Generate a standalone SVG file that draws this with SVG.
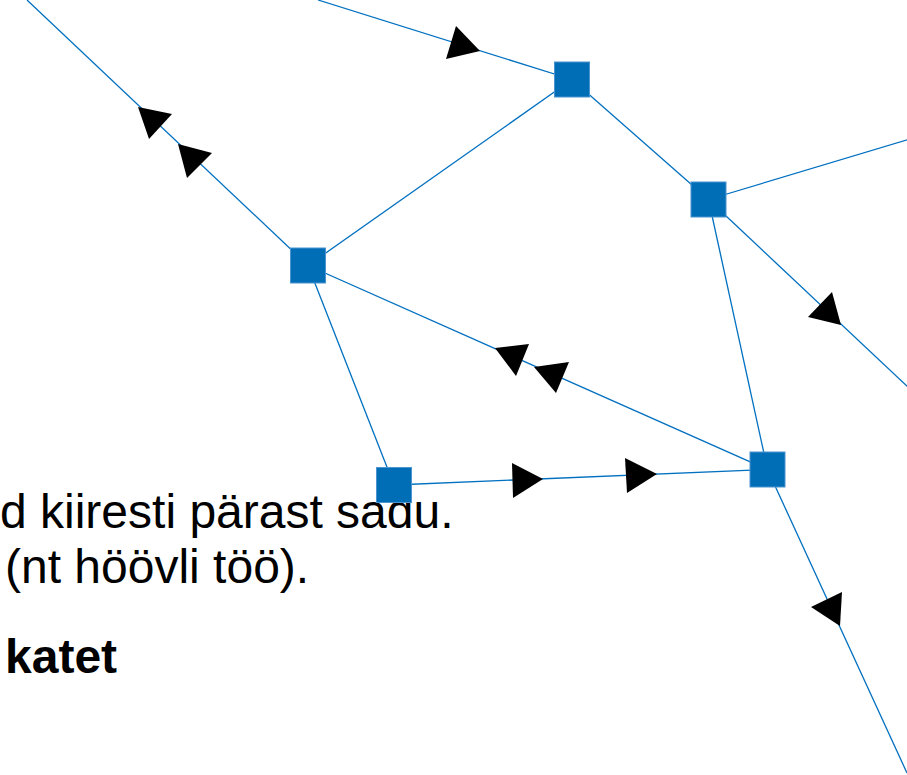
<svg xmlns="http://www.w3.org/2000/svg" width="907" height="775" viewBox="0 0 907 775">
<style>
.t{font-family:"Liberation Sans",Arial,sans-serif;font-size:48px;fill:#000}
.b{font-weight:bold}
.ln{stroke:#0070C0;stroke-width:1.3;fill:none}
.arr{fill:#000}
.nd{fill:#006EB6;stroke:#4A94CF;stroke-width:1}
</style>
<rect width="907" height="775" fill="#fff"/>
<g id="texts">
<text class="t" x="0" y="528">d kiiresti pärast sadu.</text>
<text class="t" x="5" y="583">(nt höövli töö).</text>
<text class="t b" x="5" y="673">katet</text>
</g>
<g id="connectors">
<line class="ln" x1="318" y1="0" x2="572" y2="79.5"/>
<line class="ln" x1="27" y1="0" x2="308" y2="265.5"/>
<line class="ln" x1="308" y1="265.5" x2="572" y2="79.5"/>
<line class="ln" x1="572" y1="79.5" x2="708.5" y2="199.5"/>
<line class="ln" x1="708.5" y1="199.5" x2="910" y2="139"/>
<line class="ln" x1="708.5" y1="199.5" x2="910" y2="389"/>
<line class="ln" x1="708.5" y1="199.5" x2="767.5" y2="469.5"/>
<line class="ln" x1="308" y1="265.5" x2="767.5" y2="469.5"/>
<line class="ln" x1="308" y1="265.5" x2="394" y2="485"/>
<line class="ln" x1="394" y1="485" x2="767.5" y2="469.5"/>
<line class="ln" x1="767.5" y1="469.5" x2="907" y2="773"/>
<polygon class="arr" points="480,51 456,26 446,59"/>
<polygon class="arr" points="138,107 172,114 149,139"/>
<polygon class="arr" points="178,144 212,153 187,178"/>
<polygon class="arr" points="495,348 529,344 516,376"/>
<polygon class="arr" points="534,367 569,362 556,393"/>
<polygon class="arr" points="543,479 512,463 513,498"/>
<polygon class="arr" points="657,474 625,458 627,493"/>
<polygon class="arr" points="841,325 832,292 808,317"/>
<polygon class="arr" points="840,626 811,607 842,592"/>
</g>
<g id="nodeA"><rect class="nd" x="554.5" y="62" width="35" height="35"/></g>
<g id="nodeB"><rect class="nd" x="691" y="182" width="35" height="35"/></g>
<g id="nodeC"><rect class="nd" x="290.5" y="248" width="35" height="35"/></g>
<g id="nodeD"><rect class="nd" x="376.5" y="467.5" width="35" height="35"/></g>
<g id="nodeE"><rect class="nd" x="750" y="452" width="35" height="35"/></g>
</svg>
